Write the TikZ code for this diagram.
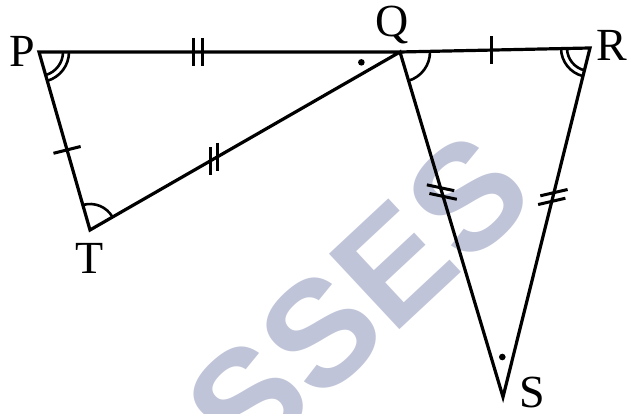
\documentclass[tikz,border=0pt]{standalone}
\usepackage{fontspec}
\setmainfont{Liberation Serif}
\newfontfamily\wmfont{Liberation Sans}
\usetikzlibrary{calc,angles}
\definecolor{wmcol}{RGB}{192,196,216}
\tikzset{
  edge/.style={line width=3.2pt, line join=miter},
  tk/.style={line width=3pt},
  ang/.style={draw, line width=2.6pt},
  lbl/.style={inner sep=0pt, font=\fontsize{46}{46}\selectfont},
}
\newcommand\onetick[2]{%
  \draw[tk] ($(#1)+(#2:14)$) -- ($(#1)+(#2+180:14)$);}
\newcommand\twotick[3]{%
  \draw[tk] ($(#1)+(#2:4.5)+(#3:14)$) -- ($(#1)+(#2:4.5)+(#3+180:14)$);
  \draw[tk] ($(#1)+(#2+180:4.5)+(#3:14)$) -- ($(#1)+(#2+180:4.5)+(#3+180:14)$);}
\begin{document}
\begin{tikzpicture}[x=1pt,y=1pt]
\useasboundingbox (0,0) rectangle (633,414);
% watermark
\begin{scope}
\clip (0,0) rectangle (633,414);
\node[inner sep=0pt, rotate=43, text=wmcol, font=\wmfont\bfseries\fontsize{150}{150}\selectfont] (wm) at (245,10) {CLASSES};
\end{scope}
% vertices
\coordinate (P) at (39,362);
\coordinate (Q) at (400,362);
\coordinate (R) at (590,366);
\coordinate (T) at (90,184);
\coordinate (S) at (503,17);
% edges
\draw[edge] (T) -- (P) -- (Q) -- (R) -- (S) -- (Q) -- cycle;
% labels
\node[lbl] (lP) at (22,363) {P};
\node[lbl] (lQ) at (392,389) {Q};
\node[lbl] (lR) at (612,369) {R};
\node[lbl] (lT) at (90,156) {T};
\node[lbl] (lS) at (532,21) {S};
% angle marks
\pic[ang, angle radius=24pt] {angle = T--P--Q};
\pic[ang, angle radius=30pt] {angle = T--P--Q};
\pic[ang, angle radius=30pt] {angle = S--Q--R};
\pic[ang, angle radius=23pt] {angle = Q--R--S};
\pic[ang, angle radius=29pt] {angle = Q--R--S};
\pic[ang, angle radius=26pt] {angle = Q--T--P};
% dots
\fill ($(Q)+(195:40)$) circle (3.3);
\fill ($(S)+(91:40)$) circle (3.3);
% ticks
\path (P) -- (Q) coordinate[pos=0.44] (pq);
\path (Q) -- (T) coordinate[pos=0.6] (qt);
\path (T) -- (P) coordinate[pos=0.45] (tp);
\path (Q) -- (R) coordinate[pos=0.48] (qr);
\path (Q) -- (S) coordinate[pos=0.406] (qs);
\path (R) -- (S) coordinate[pos=0.427] (rs);
\twotick{pq}{0}{90}
\twotick{qt}{30}{90}
\onetick{tp}{14}
\onetick{qr}{90}
\twotick{qs}{-73.4}{-12}
\twotick{rs}{76}{13}
\end{tikzpicture}
\end{document}
